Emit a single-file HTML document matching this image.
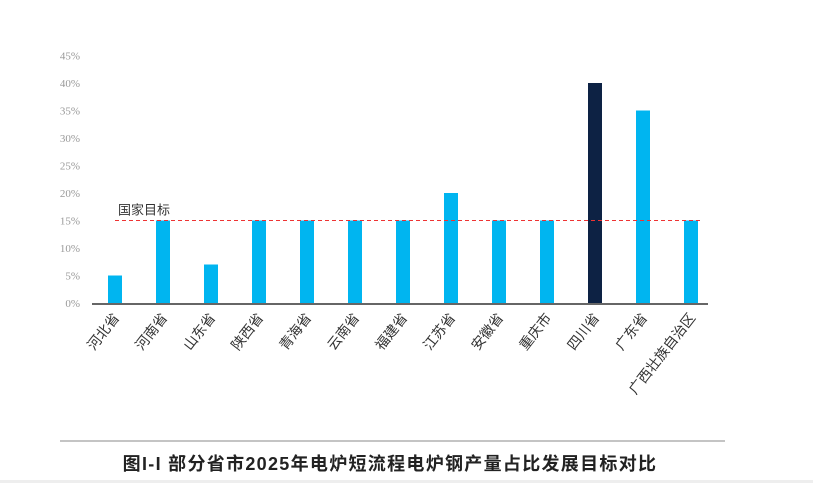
<!DOCTYPE html>
<html><head><meta charset="utf-8"><style>
body{margin:0;background:#fff;width:813px;height:483px;overflow:hidden}
svg{display:block}
</style></head><body>
<svg id="c" width="813" height="483" xmlns="http://www.w3.org/2000/svg"></svg>
<script>
const categories=["河北省","河南省","山东省","陕西省","青海省","云南省","福建省","江苏省","安徽省","重庆市","四川省","广东省","广西壮族自治区"];
const values=[5,15,7,15,15,15,15,20,15,15,40,35,15];
const highlight=[false,false,false,false,false,false,false,false,false,false,true,false,false];
const ticks=[0,5,10,15,20,25,30,35,40,45];
const target=15;
const NS="http://www.w3.org/2000/svg";
const svg=document.getElementById('c');
const y=v=>303-v*5.5;
const x=i=>115+i*48;
function mk(t,a,p){const e=document.createElementNS(NS,t);for(const k in a)e.setAttribute(k,a[k]);(p||svg).appendChild(e);return e;}
ticks.forEach(t=>{const e=mk('text',{x:80,y:y(t)+4,'text-anchor':'end','font-size':11,fill:'#999','font-family':'Liberation Serif,serif'});e.textContent=t+'%';

});
values.forEach((v,i)=>{const r=mk('rect',{x:x(i)-7,y:y(v),width:14,height:y(0)-y(v),fill:highlight[i]?'#0d2244':'#00b5f0'});


const t=mk('text',{transform:`translate(${x(i)+5},${y(0)+15}) rotate(-52)`,'text-anchor':'end','font-size':14,fill:'#333','font-family':'Liberation Sans,Noto Sans CJK SC,sans-serif'});t.textContent=categories[i];

});
const ax=mk('line',{x1:92,x2:708,y1:y(0)+1,y2:y(0)+1,stroke:'#666','stroke-width':2});


const tl=mk('line',{x1:115,x2:700,y1:y(target),y2:y(target),stroke:'#e33','stroke-width':1,'stroke-dasharray':'4,3'});


const tt=mk('text',{x:118,y:y(target)-6,'font-size':13,fill:'#333','font-family':'Liberation Sans,Noto Sans CJK SC,sans-serif'});tt.textContent='国家目标';


const r1=mk('line',{x1:60,x2:725,y1:441,y2:441,stroke:'#888','stroke-width':1});


const cp=mk('text',{x:390,y:470,'text-anchor':'middle','font-size':18,'letter-spacing':'1.3','font-weight':'bold',fill:'#222','font-family':'Liberation Sans,Noto Sans CJK SC,sans-serif'});cp.textContent='图I-I  部分省市2025年电炉短流程电炉钢产量占比发展目标对比';


const bb=mk('rect',{x:0,y:480,width:813,height:3,fill:'#eee'});


</script>
</body></html>
